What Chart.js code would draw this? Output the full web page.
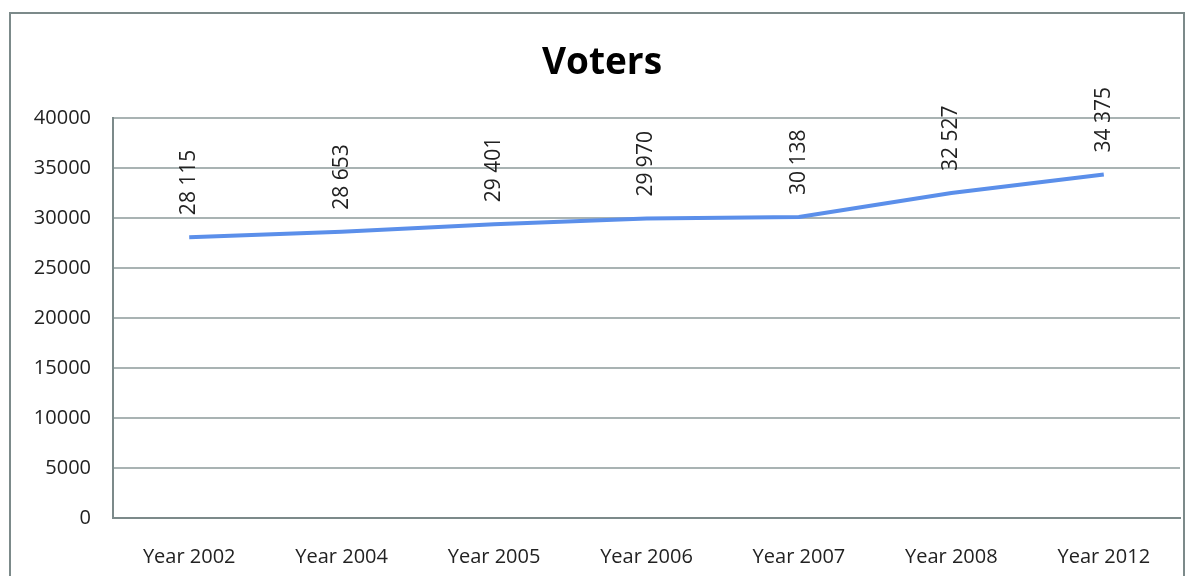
<!DOCTYPE html>
<html>
<head>
<meta charset="utf-8">
<script src="https://cdn.jsdelivr.net/npm/chart.js@4/dist/chart.umd.min.js"></script>
<style>
  html, body { margin: 0; padding: 0; background: #fff; overflow: hidden; }
  #wrap { position: relative; width: 1193px; height: 576px; }
  #frame { position: absolute; left: 9px; top: 12px; width: 1176px; height: 600px; border: 2px solid #7c8a8a; box-sizing: border-box; }
  canvas { position: absolute; left: 0; top: 0; }
</style>
</head>
<body>
<div id="wrap">
  <div id="frame"></div>
  <canvas id="myChart" width="1193" height="576"></canvas>
</div>
<script>
const years = ["Year 2002", "Year 2004", "Year 2005", "Year 2006", "Year 2007", "Year 2008", "Year 2012"];
const voters = [28115, 28653, 29401, 29970, 30138, 32527, 34375];
const yTicks = [0, 5000, 10000, 15000, 20000, 25000, 30000, 35000, 40000];

const fontFam = "'Open Sans', sans-serif";

// rotated value labels above each point
const valueLabels = {
  id: "valueLabels",
  afterDatasetsDraw(chart) {
    const ctx = chart.ctx;
    const meta = chart.getDatasetMeta(0);
    ctx.save();
    ctx.fillStyle = "#222";
    ctx.font = "21px " + fontFam;
    ctx.textAlign = "left";
    ctx.textBaseline = "middle";
    meta.data.forEach((pt, i) => {
      const txt = String(voters[i]).replace(/\B(?=(\d{3})+(?!\d))/g, " ");
      ctx.save();
      ctx.translate(pt.x, pt.y - 22);
      ctx.rotate(-Math.PI / 2);
      ctx.fillText(txt, 0, 0);
      ctx.restore();
    });
    ctx.restore();
  },
};

const votersChart = new Chart(document.getElementById("myChart").getContext("2d"), {
  type: "line",
  data: {
    labels: years,
    datasets: [
      {
        data: voters,
        borderColor: "#5b8fea",
        borderWidth: 4,
        pointRadius: 0,
        tension: 0,
        fill: false,
        clip: false,
      },
    ],
  },
  options: {
    responsive: false,
    animation: false,
    layout: { padding: { left: 24, right: 13, top: 0, bottom: 0 } },
    plugins: {
      legend: { display: false },
      tooltip: { enabled: false },
      title: {
        display: true,
        text: "Voters",
        color: "#000",
        font: { size: 37, weight: "bold", family: fontFam, lineHeight: 1.2 },
        padding: { top: 41, bottom: 33 },
      },
    },
    scales: {
      x: {
        offset: true,
        grid: { display: false },
        border: { display: true, color: "#7c8a8a", width: 2 },
        ticks: { color: "#222", font: { size: 20, family: fontFam }, padding: 19, maxRotation: 0 },
        afterFit(scale) { scale.height = 58; },
      },
      y: {
        min: 0,
        max: 40000,
        afterBuildTicks(scale) { scale.ticks = yTicks.map(v => ({ value: v })); },
        grid: { color: "#a9b3b3", lineWidth: 2, drawTicks: false },
        border: { display: true, color: "#7c8a8a", width: 2 },
        ticks: {
          color: "#222",
          font: { size: 20, family: fontFam },
          padding: 22,
          callback: (v) => String(v),
        },
        afterFit(scale) { scale.width = 89; },
      },
    },
  },
  plugins: [valueLabels],
});
</script>
</body>
</html>
